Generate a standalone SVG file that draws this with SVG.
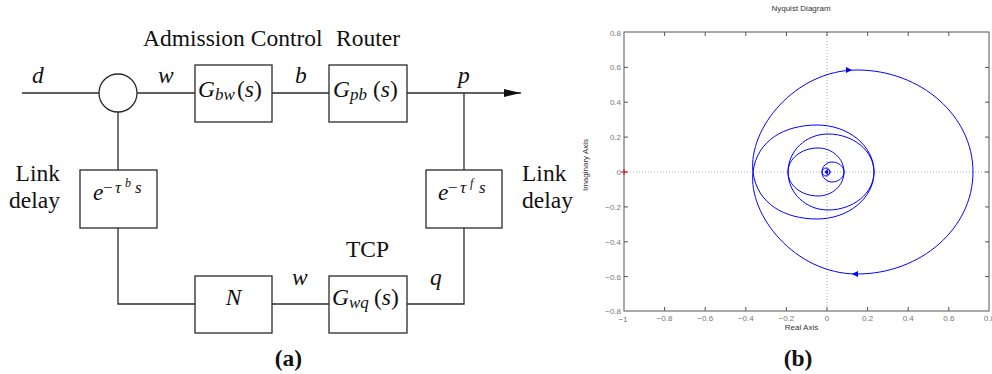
<svg xmlns="http://www.w3.org/2000/svg" width="992" height="374" viewBox="0 0 992 374">
<defs>
<style>
.ln{fill:none;stroke:#2a2a2a;stroke-width:1.3}
.box{fill:#fff;stroke:#2a2a2a;stroke-width:1.3}
.t{font-family:"Liberation Serif","Times New Roman",serif;font-size:23.5px;fill:#111}
.i{font-style:italic}
.sub{font-size:17px;font-style:italic}
.sup{font-size:17px}
.sup2{font-size:12px;font-style:italic}
.bold{font-weight:bold}
.ax{font-family:"Liberation Sans",Arial,sans-serif;font-size:8px;fill:#333}
.tk{font-family:"Liberation Sans",Arial,sans-serif;font-size:8px;fill:#777}
.curve{fill:none;stroke:#0000ff;stroke-width:1}
.frame{fill:none;stroke:#555;stroke-width:1}
.grid{fill:none;stroke:#999;stroke-width:0.8;stroke-dasharray:1,2}
</style>
<marker id="arr" markerUnits="userSpaceOnUse" markerWidth="18" markerHeight="9" refX="17" refY="4" orient="auto"><path d="M0,0 L17,4 L0,8 Z" fill="#111"/></marker>
</defs>
<rect width="992" height="374" fill="#fff"/>

<!-- (a) block diagram -->
<g id="connectors">
<line class="ln" x1="22" y1="93" x2="99" y2="93"/>
<line class="ln" x1="137" y1="93" x2="195" y2="93"/>
<line class="ln" x1="272" y1="93" x2="329" y2="93"/>
<line class="ln" x1="407" y1="93" x2="521" y2="93" marker-end="url(#arr)"/>
<line class="ln" x1="118" y1="112" x2="118" y2="170"/>
<polyline class="ln" points="118,228 118,304 195,304"/>
<line class="ln" x1="272" y1="304" x2="329" y2="304"/>
<polyline class="ln" points="407,304 464,304 464,228"/>
<line class="ln" x1="464" y1="170" x2="464" y2="93"/>
</g>

<g id="sum">
<circle class="box" cx="118" cy="93" r="19"/>
</g>

<g id="Gbw">
<rect class="box" x="195" y="65" width="77" height="57"/>
<text class="t" x="198" y="97"><tspan class="i">G</tspan><tspan class="sub" dy="3">bw</tspan><tspan x="237" y="97">(</tspan><tspan class="i">s</tspan><tspan>)</tspan></text>
</g>

<g id="Gpb">
<rect class="box" x="329" y="65" width="78" height="57"/>
<text class="t" x="333" y="97"><tspan class="i">G</tspan><tspan class="sub" dy="3">pb</tspan><tspan x="373" y="97">(</tspan><tspan class="i">s</tspan><tspan>)</tspan></text>
</g>

<g id="delayB">
<rect class="box" x="80" y="170" width="77" height="58"/>
<text class="t"><tspan class="i" x="93" y="200">e</tspan><tspan class="sup" x="103" y="193">−</tspan><tspan class="sup i" x="115" y="193">τ</tspan><tspan class="sup2" x="125" y="187">b</tspan><tspan class="sup i" x="135" y="193">s</tspan></text>
</g>

<g id="delayF">
<rect class="box" x="426" y="170" width="76" height="58"/>
<text class="t"><tspan class="i" x="438" y="200">e</tspan><tspan class="sup" x="448" y="193">−</tspan><tspan class="sup i" x="460" y="193">τ</tspan><tspan class="sup2" x="470" y="187">f</tspan><tspan class="sup i" x="479" y="193">s</tspan></text>
</g>

<g id="N">
<rect class="box" x="195" y="276" width="77" height="57"/>
<text class="t i" x="233.5" y="305" text-anchor="middle">N</text>
</g>

<g id="Gwq">
<rect class="box" x="329" y="276" width="78" height="57"/>
<text class="t" x="332" y="305"><tspan class="i">G</tspan><tspan class="sub" dy="3">wq</tspan><tspan x="374" y="305">(</tspan><tspan class="i">s</tspan><tspan>)</tspan></text>
</g>

<g id="labels">
<text class="t" x="143" y="46">Admission Control</text>
<text class="t" x="336" y="46">Router</text>
<text class="t i" x="32" y="83">d</text>
<text class="t i" x="158" y="83">w</text>
<text class="t i" x="295" y="83">b</text>
<text class="t i" x="458" y="83">p</text>
<text class="t i" x="292" y="285">w</text>
<text class="t i" x="430" y="285">q</text>
<text class="t" x="60" y="181" text-anchor="end">Link</text>
<text class="t" x="60" y="208" text-anchor="end">delay</text>
<text class="t" x="522" y="181">Link</text>
<text class="t" x="522" y="208">delay</text>
<text class="t" x="346" y="257">TCP</text>
<text class="t bold" x="288.5" y="366" text-anchor="middle">(a)</text>
</g>

<!-- (b) Nyquist plot -->
<g id="nyquist">
<text class="ax" x="801" y="11" text-anchor="middle">Nyquist Diagram</text>
<line class="grid" x1="827" y1="32" x2="827" y2="311"/>
<line class="grid" x1="624" y1="172" x2="989" y2="172"/>
<rect class="frame" x="624" y="32" width="365" height="279"/>
<path class="frame" d="M664.6,311v-4M705.2,311v-4M745.8,311v-4M786.4,311v-4M827,311v-4M867.6,311v-4M908.2,311v-4M948.8,311v-4M664.6,32v4M705.2,32v4M745.8,32v4M786.4,32v4M827,32v4M867.6,32v4M908.2,32v4M948.8,32v4M624,67.4h4M624,102.2h4M624,137.1h4M624,172h4M624,206.9h4M624,241.8h4M624,276.6h4M989,67.4h-4M989,102.2h-4M989,137.1h-4M989,172h-4M989,206.9h-4M989,241.8h-4M989,276.6h-4"/>
<g class="tk" text-anchor="end">
<text x="621" y="35.5">0.8</text>
<text x="621" y="70.4">0.6</text>
<text x="621" y="105.2">0.4</text>
<text x="621" y="140.1">0.2</text>
<text x="621" y="175">0</text>
<text x="621" y="209.9">−0.2</text>
<text x="621" y="244.8">−0.4</text>
<text x="621" y="279.6">−0.6</text>
<text x="621" y="314">−0.8</text>
</g>
<g class="tk" text-anchor="middle">
<text x="623" y="322">−1</text>
<text x="664.6" y="321">−0.8</text>
<text x="705.2" y="321">−0.6</text>
<text x="745.8" y="321">−0.4</text>
<text x="786.4" y="321">−0.2</text>
<text x="827" y="321">0</text>
<text x="867.6" y="321">0.2</text>
<text x="908.2" y="321">0.4</text>
<text x="948.8" y="321">0.6</text>
<text x="989.4" y="321">0.8</text>
</g>
<text class="ax" x="801.5" y="330" text-anchor="middle">Real Axis</text>
<text class="ax" transform="translate(588,165) rotate(-90)" text-anchor="middle">Imaginary Axis</text>
<path d="M621,172h6M624,169v6" stroke="#ff0000" stroke-width="1" fill="none"/>
<path id="spiral" class="curve" d="M973,172 C973,228 921,274 857,274 C795,274 748,215 753,172 C757,140 785,125 817,125 C848.5,125 874,146 874,172 C874,193 853.4,210 828,210 C805.9,210 788,193 788,172 C788,158.7 801.4,148 818,148 C832.4,148 844,158.7 844,172 C844,177.5 838.6,182 832,182 C826.5,182 822,177.5 822,172 C822,169.8 824,168 826,168 C828.2,168 830,169.8 830,172 C830,173.5 828.8,174.5 827.5,174.5 C826.5,174.5 826,173.5 826,172.5"/>
<use href="#spiral" transform="matrix(1,0,0,-1,0,344)"/>
<path d="M852,70 L846,67 L846,73 Z" fill="#0000ff"/>
<path d="M852,274 L858,271 L858,277 Z" fill="#0000ff"/>
<path d="M824,172 L828,170 L828,174 Z" fill="#0000ff"/>
<text class="t bold" x="798" y="366" text-anchor="middle">(b)</text>
</g>
</svg>
